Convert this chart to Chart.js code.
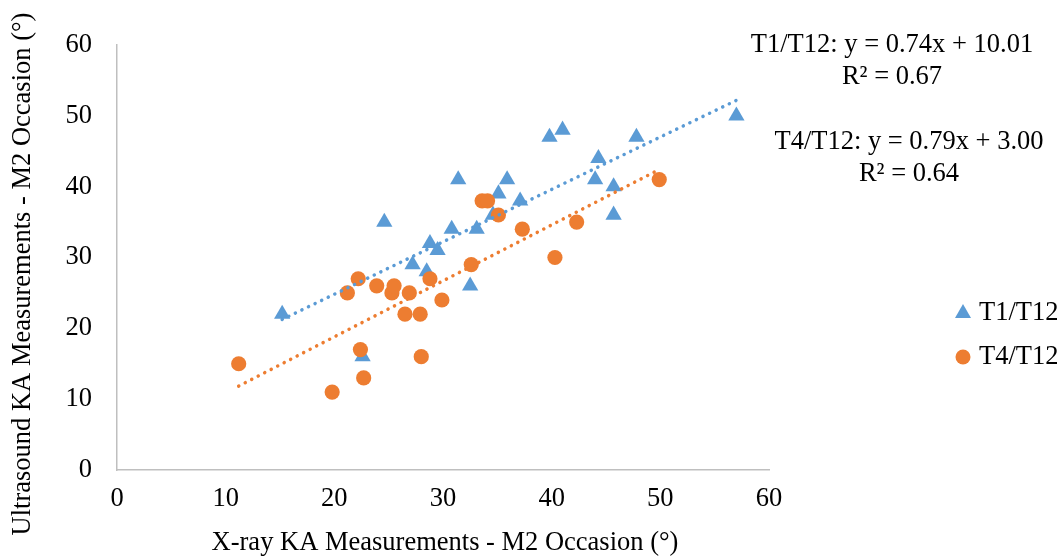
<!DOCTYPE html>
<html>
<head>
<meta charset="utf-8">
<script src="https://cdn.jsdelivr.net/npm/chart.js@4/dist/chart.umd.min.js"></script>
<style>
  html, body { margin: 0; padding: 0; background: #fff; }
  #wrap { width: 1057px; height: 560px; }
</style>
</head>
<body>
<div id="wrap"><canvas id="kaChart" width="1057" height="560"></canvas></div>
<script>
// X-ray vs ultrasound KA, M2 occasion
const t1X = [15.2, 22.6, 24.6, 27.2, 28.5, 28.8, 29.5, 30.8, 31.4, 32.5, 33.1, 34.6, 35.1, 35.9, 37.1, 39.8, 41.0, 44.0, 44.3, 45.7, 45.7, 47.8, 57.0];
const t1Y = [22, 16, 35, 29, 28, 32, 31, 34, 41, 26, 34, 36, 39, 41, 38, 47, 48, 41, 44, 40, 36, 47, 50];

const t4X = [11.2, 19.8, 21.2, 22.2, 22.4, 22.7, 23.9, 25.3, 25.5, 26.5, 26.9, 27.9, 28.0, 28.8, 29.9, 32.6, 33.6, 34.1, 35.1, 37.3, 40.3, 42.3, 49.9];
const t4Y = [15, 11, 25, 27, 17, 13, 26, 25, 26, 22, 25, 22, 16, 27, 24, 29, 38, 38, 36, 34, 30, 35, 41];

const seriesNames = ["T1/T12", "T4/T12"];
const slopes = [0.74, 0.79];
const intercepts = [10.01, 3.00];
const rSquared = ["0.67", "0.64"];
const tickValues = [0, 10, 20, 30, 40, 50, 60];
const xTitle = "X-ray KA Measurements - M2 Occasion (\u00B0)";
const yTitle = "Ultrasound KA Measurements - M2 Occasion (\u00B0)";

const BLUE = "#5B9BD5";
const ORANGE = "#ED7D31";
const FONT = "'Liberation Serif', 'Times New Roman', serif";
const FSIZE = 26.5;

function toPoints(xs, ys) {
    return xs.map((x, i) => ({ x: x, y: ys[i] }));
}

// linear trendline spanning the series' x range
function trend(xs, i) {
    const lo = Math.min(...xs), hi = Math.max(...xs);
    return [lo, hi].map(x => ({ x: x, y: slopes[i] * x + intercepts[i] }));
}

const fmt = n => n.toFixed(2);

// axis titles, equation labels and legend drawn on the canvas
const extras = {
    id: "extras",
    afterDraw(chart) {
        const ctx = chart.ctx;
        ctx.save();
        ctx.fillStyle = "#000";
        ctx.font = FSIZE + "px " + FONT;
        ctx.textAlign = "center";
        ctx.textBaseline = "middle";

        ctx.fillText(xTitle, 445, 543);
        ctx.save();
        ctx.translate(23, 274);
        ctx.rotate(-Math.PI / 2);
        ctx.fillText(yTitle, 0, 0);
        ctx.restore();

        const eqPos = [[892, 45], [909, 142]];
        eqPos.forEach((p, i) => {
            ctx.fillText(seriesNames[i] + ": y = " + fmt(slopes[i]) + "x + " + fmt(intercepts[i]), p[0], p[1]);
            ctx.fillText("R\u00B2 = " + rSquared[i], p[0], p[1] + 32);
        });

        // legend
        ctx.textAlign = "left";
        const lx = 963;
        ctx.fillStyle = BLUE;
        ctx.beginPath();
        ctx.moveTo(lx, 313 - 9);
        ctx.lineTo(lx + 8, 313 + 5);
        ctx.lineTo(lx - 8, 313 + 5);
        ctx.closePath();
        ctx.fill();
        ctx.fillStyle = ORANGE;
        ctx.beginPath();
        ctx.arc(lx, 357, 7.5, 0, Math.PI * 2);
        ctx.fill();
        ctx.fillStyle = "#000";
        ctx.fillText(seriesNames[0], 979, 313);
        ctx.fillText(seriesNames[1], 979, 357);
        ctx.restore();
    }
};

const dotted = {
    type: "scatter",
    showLine: true,
    pointRadius: 0,
    borderWidth: 3.5,
    borderDash: [0.1, 7.2],
    borderCapStyle: "round",
    fill: false
};

new Chart(document.getElementById("kaChart"), {
    type: "scatter",
    data: {
        datasets: [
            Object.assign({}, dotted, { data: trend(t1X, 0), borderColor: BLUE, order: 1 }),
            Object.assign({}, dotted, { data: trend(t4X, 1), borderColor: ORANGE, order: 0 }),
            {
                label: seriesNames[0],
                data: toPoints(t1X, t1Y),
                pointStyle: "triangle",
                pointRadius: 9.4,
                backgroundColor: BLUE,
                borderColor: BLUE,
                borderWidth: 0,
                order: 3
            },
            {
                label: seriesNames[1],
                data: toPoints(t4X, t4Y),
                pointStyle: "circle",
                pointRadius: 7.6,
                backgroundColor: ORANGE,
                borderColor: ORANGE,
                borderWidth: 0,
                order: 2
            }
        ]
    },
    options: {
        responsive: false,
        animation: false,
        layout: { padding: { left: 0, right: 288, top: 45, bottom: 0 } },
        plugins: { legend: { display: false }, tooltip: { enabled: false } },
        scales: {
            x: {
                type: "linear",
                min: 0, max: 60,
                afterFit: s => { s.height = 90; },
                afterBuildTicks: s => { s.ticks = tickValues.map(v => ({ value: v })); },
                grid: { display: false, drawTicks: false },
                border: { display: true, color: "#BFBFBF", width: 1.5 },
                ticks: { font: { family: FONT, size: FSIZE }, color: "#000", padding: 13, maxRotation: 0 }
            },
            y: {
                type: "linear",
                min: 0, max: 60,
                afterFit: s => { s.width = 117; },
                afterBuildTicks: s => { s.ticks = tickValues.map(v => ({ value: v })); },
                grid: { display: false, drawTicks: false },
                border: { display: true, color: "#BFBFBF", width: 1.5 },
                ticks: { font: { family: FONT, size: FSIZE }, color: "#000", padding: 25 }
            }
        }
    },
    plugins: [extras]
});
</script>
</body>
</html>
